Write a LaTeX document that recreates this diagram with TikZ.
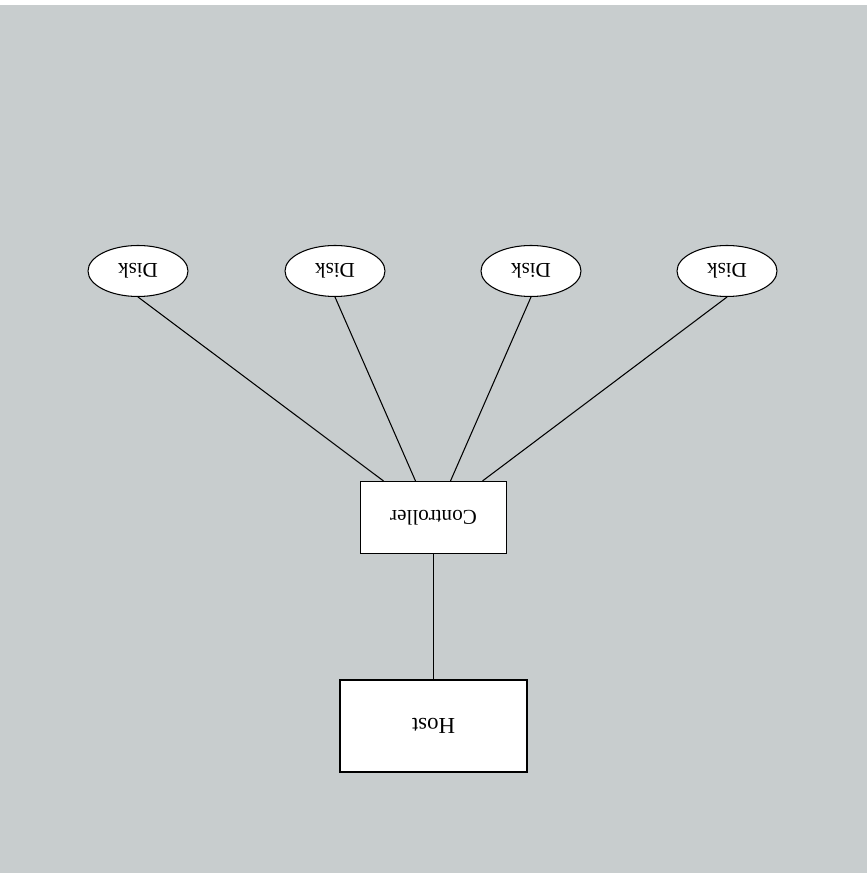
\documentclass[tikz,border=0pt]{standalone}
\usepackage{fontspec}
\setmainfont{Liberation Serif}
\usetikzlibrary{shapes.geometric}
\definecolor{scangray}{RGB}{200,205,206}

\begin{document}
\begin{tikzpicture}[line width=0.6pt,
  disk/.style={draw, fill=white, ellipse, inner sep=0pt, minimum width=2cm, minimum height=1.02cm, font=\large, rotate=180},
  unit/.style={draw, fill=white, rectangle, inner sep=0pt, rotate=180}]
\useasboundingbox (0,0) rectangle (17.34,17.46);
\fill [scangray] (0,0) rectangle (17.34,17.36);

\node [disk] (d1) at (2.76,12.04) {Disk};
\node [disk] (d2) at (6.70,12.04) {Disk};
\node [disk] (d3) at (10.62,12.04) {Disk};
\node [disk] (d4) at (14.54,12.04) {Disk};

\node [unit, minimum width=2.92cm, minimum height=1.44cm, font=\large] (ctrl) at (8.67,7.11) {Controller};
\node [unit, minimum width=3.74cm, minimum height=1.84cm, font=\fontsize{13}{15}\selectfont] (host) at (8.67,2.94) {Host};

\draw (d1.north) -- ([xshift=-1cm]ctrl.south);
\draw (d2.north) -- ([xshift=-0.36cm]ctrl.south);
\draw (d3.north) -- ([xshift=0.34cm]ctrl.south);
\draw (d4.north) -- ([xshift=0.98cm]ctrl.south);
\draw (ctrl.north) -- (host.south);

\end{tikzpicture}
\end{document}
